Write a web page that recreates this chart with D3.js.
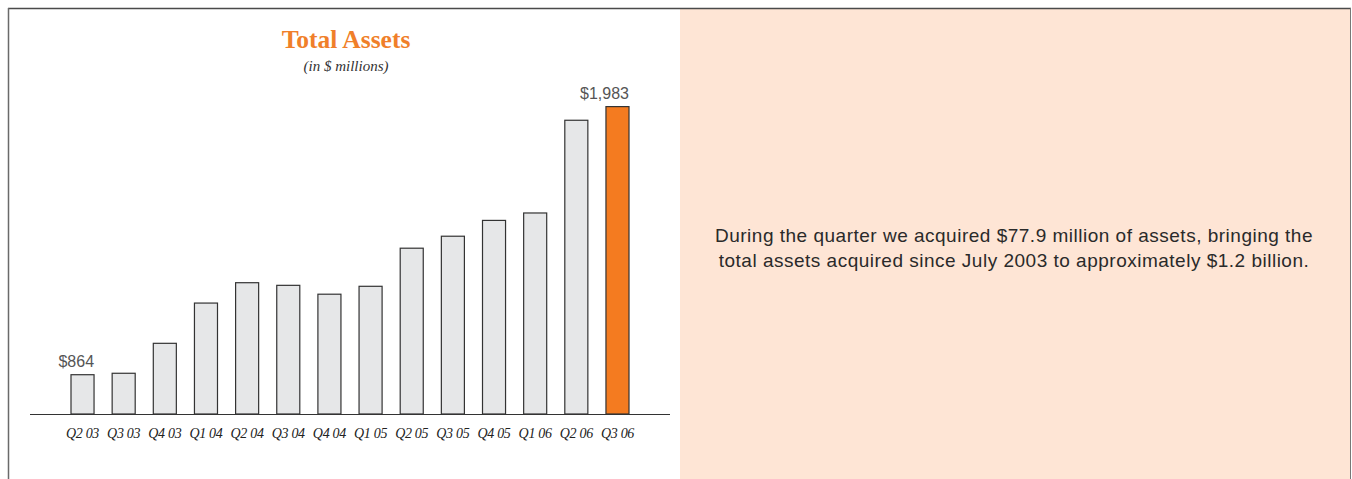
<!DOCTYPE html>
<html>
<head>
<meta charset="utf-8">
<script src="https://cdn.jsdelivr.net/npm/d3@7"></script>
<style>
  body { margin: 0; background: #fff; }
</style>
</head>
<body>
<div id="chart"></div>
<script>
// données
const quarters = ["Q2 03", "Q3 03", "Q4 03", "Q1 04", "Q2 04", "Q3 04", "Q4 04",
    "Q1 05", "Q2 05", "Q3 05", "Q4 05", "Q1 06", "Q2 06", "Q3 06"];
const totalAssets = [864, 870, 995, 1163, 1248, 1237, 1200,
    1233, 1392, 1442, 1508, 1539, 1926, 1983];
const valueLabels = { "Q2 03": "$864", "Q3 06": "$1,983" };
const highlightQuarter = "Q3 06";
const noteLines = [
    "During the quarter we acquired $77.9 million of assets, bringing the",
    "total assets acquired since July 2003 to approximately $1.2 billion."
];

const W = 1352, H = 479;

const svg = d3.select("#chart")
    .append("svg")
    .attr("width", W)
    .attr("height", H);

// panneau de droite
svg.append("rect")
    .attr("x", 680).attr("y", 9)
    .attr("width", 670).attr("height", H - 9)
    .style("fill", "#fee5d5");

// cadre
svg.append("line")
    .attr("x1", 8).attr("x2", 1351).attr("y1", 8.5).attr("y2", 8.5)
    .style("stroke", "#4a4a4a").style("stroke-width", 1.5);
svg.append("line")
    .attr("x1", 8.5).attr("x2", 8.5).attr("y1", 8).attr("y2", H)
    .style("stroke", "#6a6a6a").style("stroke-width", 1.5);
svg.append("line")
    .attr("x1", 1350.5).attr("x2", 1350.5).attr("y1", 8).attr("y2", H)
    .style("stroke", "#777").style("stroke-width", 1);

// échelles
const x = d3.scaleBand()
    .domain(quarters)
    .range([71, 629])
    .paddingInner(0.44)
    .paddingOuter(0);

const y = d3.scaleLinear()
    .domain([700, 1983])
    .range([414, 106.6]);

// titre
svg.append("text")
    .attr("x", 346).attr("y", 48)
    .attr("text-anchor", "middle")
    .style("font-family", "'Liberation Serif', serif")
    .style("font-weight", "bold")
    .style("font-size", "25.5px")
    .style("fill", "#f07f2a")
    .text("Total Assets");

svg.append("text")
    .attr("x", 346).attr("y", 71)
    .attr("text-anchor", "middle")
    .style("font-family", "'Liberation Serif', serif")
    .style("font-style", "italic")
    .style("font-size", "15px")
    .style("fill", "#333")
    .text("(in $ millions)");

// barres
svg.append("g")
    .selectAll("rect")
    .data(quarters)
    .join("rect")
    .attr("x", d => x(d))
    .attr("y", (d, i) => y(totalAssets[i]))
    .attr("width", x.bandwidth())
    .attr("height", (d, i) => y(700) - y(totalAssets[i]))
    .style("fill", d => d === highlightQuarter ? "#f47b20" : "#e6e7e8")
    .style("stroke", "#333")
    .style("stroke-width", 1.2);

// étiquettes de valeur
svg.append("g")
    .selectAll("text")
    .data(quarters.filter(q => valueLabels[q]))
    .join("text")
    .attr("x", d => x(d) + x.bandwidth())
    .attr("y", d => y(totalAssets[quarters.indexOf(d)]) - 8)
    .attr("text-anchor", "end")
    .style("font-family", "'Liberation Sans', Arial, sans-serif")
    .style("font-size", "16px")
    .style("fill", "#555")
    .text(d => valueLabels[d]);

// axe X
const xAxis = svg.append("g")
    .attr("transform", `translate(0, 414)`)
    .call(d3.axisBottom(x).tickSize(0).tickPadding(14));
xAxis.select(".domain").remove();
xAxis.selectAll("text")
    .style("font-family", "'Liberation Serif', serif")
    .style("font-style", "italic")
    .style("font-size", "14px")
    .style("letter-spacing", "-0.3px")
    .style("fill", "#222");

svg.append("line")
    .attr("x1", 30).attr("x2", 670)
    .attr("y1", 414.5).attr("y2", 414.5)
    .style("stroke", "#333").style("stroke-width", 1.2);

// texte de droite
svg.append("g")
    .selectAll("text")
    .data(noteLines)
    .join("text")
    .attr("x", 1014)
    .attr("y", (d, i) => 242 + i * 25)
    .attr("text-anchor", "middle")
    .style("font-family", "'Liberation Sans', Arial, sans-serif")
    .style("font-size", "19px")
    .style("letter-spacing", "0.5px")
    .style("fill", "#2a2a2a")
    .text(d => d);
</script>
</body>
</html>
